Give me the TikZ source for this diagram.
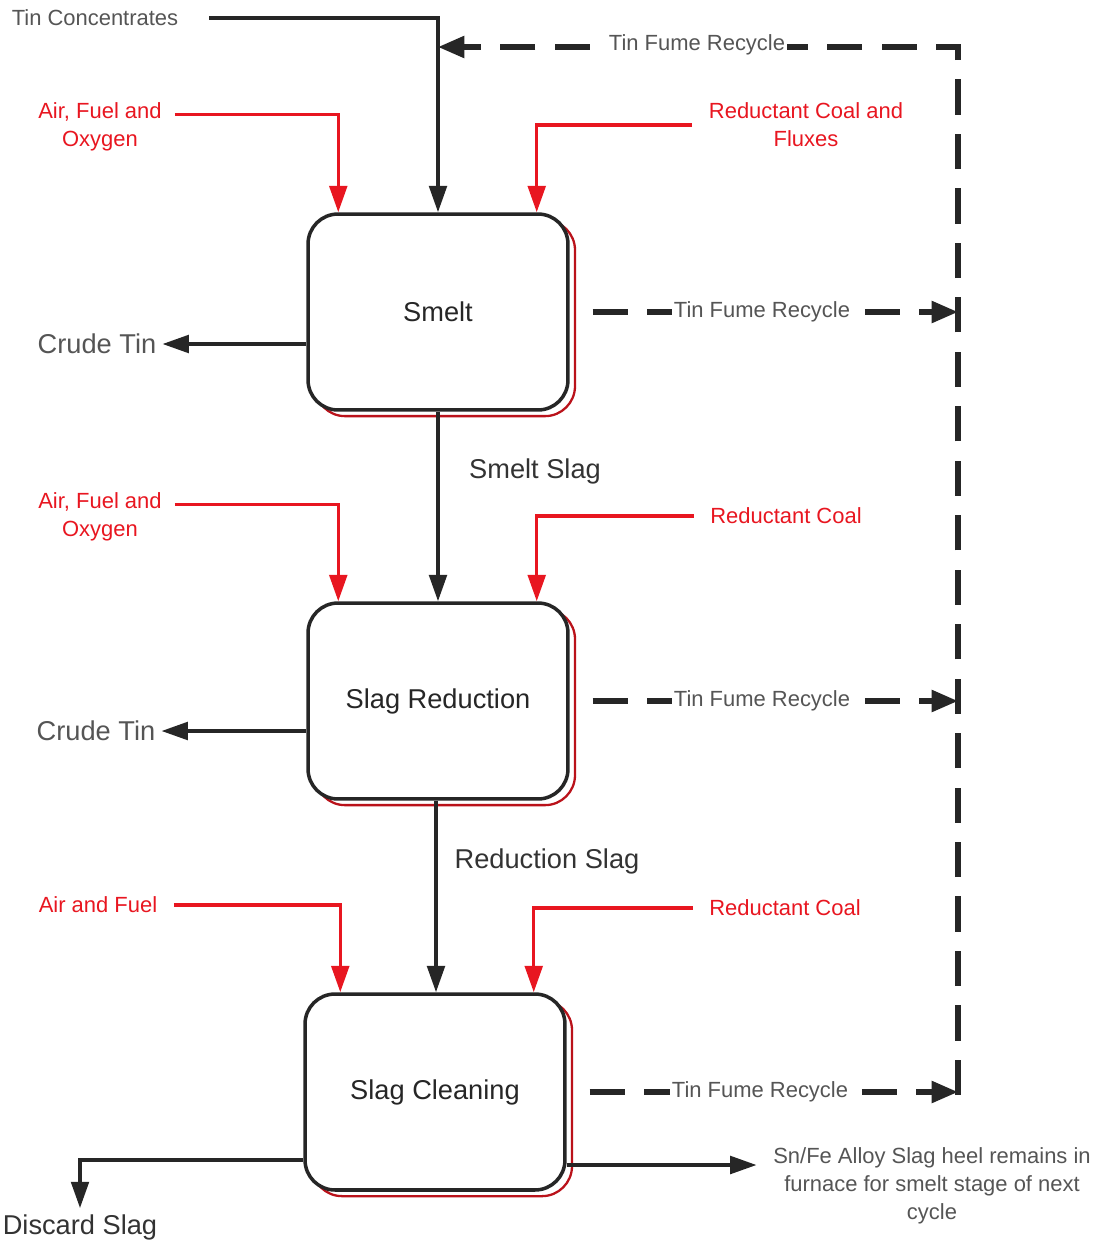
\documentclass[tikz,border=0pt]{standalone}
\usepackage{fontspec}
\setmainfont{Liberation Sans}
\usepackage{tikz}
\usepackage{xcolor}
\usetikzlibrary{
    arrows.meta,
    calc,
    shadows
}
\definecolor{feedred}{RGB}{232,22,32}
\definecolor{labelgray}{RGB}{85,85,85}

\begin{document}
\begin{tikzpicture}[x=0.02cm, y=-0.02cm,
            small/.style={font=\fontsize{12.5}{16}\selectfont},
            big/.style={font=\fontsize{15.5}{18}\selectfont},
            stage/.style={draw=black!85, line width=2pt, rounded corners=0.6cm, fill=white,
                minimum width=5.2cm, minimum height=3.92cm, big, text=black!85,
                drop shadow={shadow xshift=4pt, shadow yshift=-3.5pt, fill=none,
                    draw=feedred!80!black, opacity=1, line width=1.3pt}},
            flow/.style={-{Triangle[length=15pt,width=10pt]}, line width=2pt, black!85},
            feed/.style={flow, feedred},
            fume/.style={-{Triangle[length=15pt,width=12pt]}, line width=3pt, black!85,
                dash pattern=on 20pt off 11pt},
            fumelabel/.style={small, labelgray, fill=white, inner sep=1pt}
        ]
            \useasboundingbox (0,0) rectangle (1107,1245);
            
            \node[stage] (smelt) at (438,312) {Smelt};
            \node[stage] (slagred) at (438,701) {Slag Reduction};
            \node[stage] (slagcl) at (435,1092) {Slag Cleaning};
            
            \node[small, labelgray] (tc) at (95,18) {Tin Concentrates};
            \node[small, feedred, align=center] (afo1) at (100,127) {Air, Fuel and\\Oxygen};
            \node[small, feedred, align=center] (rcf) at (806,125) {Reductant Coal and\\Fluxes};
            \node[big, labelgray] (ct1) at (97,344) {Crude Tin};
            
            \node[big, black!80] (ss) at (535,471) {Smelt Slag};
            \node[small, feedred, align=center] (afo2) at (100,517) {Air, Fuel and\\Oxygen};
            \node[small, feedred] (rc2) at (786,516) {Reductant Coal};
            \node[big, labelgray] (ct2) at (96,731) {Crude Tin};
            
            \node[big, black!80] (rs) at (547,861) {Reduction Slag};
            \node[small, feedred] (af) at (98,905) {Air and Fuel};
            \node[small, feedred] (rc3) at (785,908) {Reductant Coal};
            \node[big, black!80] (ds) at (80,1227) {Discard Slag};
            \node[small, labelgray, align=center] (heel) at (932,1186) {Sn/Fe Alloy Slag heel remains in\\furnace for smelt stage of next\\cycle};
            
            \coordinate (fumetop) at (958,47);
            \coordinate (fumebot) at (958,1095);
            \coordinate (heelout) at ($(slagcl.east)+(0,73)$);
            
            \draw[fume] (fumebot) -- (fumetop) -- (fumetop -| smelt.north);
            \draw[fume, shorten <=13pt] (smelt.east) -- (smelt.east -| fumetop);
            \draw[fume, shorten <=13pt] (slagred.east) -- (slagred.east -| fumetop);
            \draw[fume, shorten <=13pt] (slagcl.east) -- (slagcl.east -| fumetop);
            
            \node[fumelabel] (fr0) at (697,45) {Tin Fume Recycle};
            \node[fumelabel] (fr1) at (762,312) {Tin Fume Recycle};
            \node[fumelabel] (fr2) at (762,701) {Tin Fume Recycle};
            \node[fumelabel] (fr3) at (760,1092) {Tin Fume Recycle};
            
            \draw[flow, shorten <=14pt] (tc.east) -| (smelt.north);
            \draw[feed, shorten <=4pt] ([yshift=7pt]afo1.east) -| ($(smelt.north west)+(32,0)$);
            \draw[feed, shorten <=6pt] (rcf.west) -| ($(smelt.north east)+(-33,0)$);
            \draw[flow] ($(smelt.west)+(0,32)$) -- (ct1.east);
            
            \draw[flow] (smelt.south) -- (slagred.north);
            \draw[feed, shorten <=4pt] ([yshift=7pt]afo2.east) -| ($(slagred.north west)+(32,0)$);
            \draw[feed, shorten <=6pt] (rc2.west) -| ($(slagred.north east)+(-33,0)$);
            \draw[flow] ($(slagred.west)+(0,30)$) -- (ct2.east);
            
            \draw[flow] ($(slagred.south)+(-2,0)$) -- ($(slagcl.north)+(1,0)$);
            \draw[feed, shorten <=6pt] (af.east) -| ($(slagcl.north west)+(37,0)$);
            \draw[feed, shorten <=6pt] (rc3.west) -| ($(slagcl.north east)+(-33,0)$);
            \draw[flow] ($(slagcl.west)+(0,68)$) -| (ds.north);
            \draw[flow, shorten >=6pt] (heelout) -- (heelout -| heel.west);
            \end{tikzpicture}
\end{document}
